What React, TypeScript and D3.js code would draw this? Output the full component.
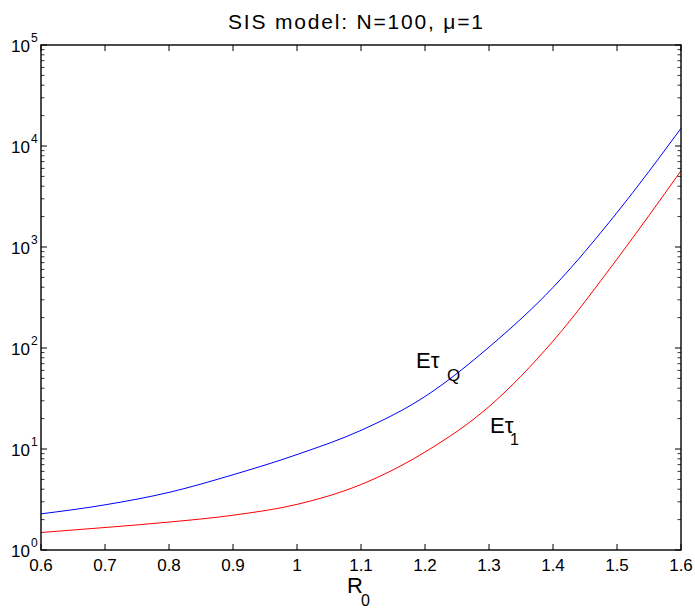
import * as d3 from "d3";

// values (R0 grid, expected extinction times)
const r0Values = [0.6, 0.7, 0.8, 0.9, 1.0, 1.1, 1.2, 1.3, 1.4, 1.5, 1.6];
const tauQ = [2.28, 2.8, 3.72, 5.56, 8.81, 15.3, 33.1, 102, 398, 2190, 14960];
const tau1 = [1.49, 1.67, 1.89, 2.21, 2.83, 4.45, 9.33, 26.3, 117, 759, 5690];
const xTicks = [0.6, 0.7, 0.8, 0.9, 1, 1.1, 1.2, 1.3, 1.4, 1.5, 1.6];
const yDecades = [0, 1, 2, 3, 4, 5];

const W = 695;
const H = 609;
const margin = { top: 45, right: 14, bottom: 59, left: 41 };
const FONT = "'Liberation Sans', Arial, Helvetica, sans-serif";

export default function App() {
  const x = d3.scaleLinear().domain([0.6, 1.6]).range([margin.left, W - margin.right]);
  const y = d3.scaleLog().domain([1, 1e5]).range([H - margin.bottom, margin.top]);
  const x0 = x.range()[0], x1 = x.range()[1];
  const y0 = y.range()[0], y1 = y.range()[1];

  const line = d3
    .line<number>()
    .x((_, i) => x(r0Values[i]))
    .y((d) => y(d))
    .curve(d3.curveMonotoneX);

  // minor ticks 2..9 per decade
  const minor: number[] = [];
  for (let e = 0; e < 5; e++) for (let k = 2; k < 10; k++) minor.push(k * Math.pow(10, e));

  const majorLen = 6;
  const minorLen = 3.5;

  return (
    <svg width={W} height={H} style={{ position: "absolute", left: 0, top: 0 }} fontFamily={FONT}>
      <rect width={W} height={H} fill="#fff" />

      {/* curves */}
      <path d={line(tauQ) ?? ""} fill="none" stroke="#0000ff" strokeWidth={1} />
      <path d={line(tau1) ?? ""} fill="none" stroke="#ff0000" strokeWidth={1} />

      {/* frame */}
      <rect x={x0} y={y1} width={x1 - x0} height={y0 - y1} fill="none" stroke="#000" strokeWidth={1.4} />

      {/* x ticks bottom + top */}
      {xTicks.map((t) => (
        <g key={"xt" + t}>
          <line x1={x(t)} x2={x(t)} y1={y0} y2={y0 - majorLen} stroke="#000" />
          <line x1={x(t)} x2={x(t)} y1={y1} y2={y1 + majorLen} stroke="#000" />
          <text x={x(t)} y={571} fontSize={17} textAnchor="middle">
            {String(t)}
          </text>
        </g>
      ))}

      {/* y major ticks */}
      {yDecades.map((e) => {
        const yy = y(Math.pow(10, e));
        return (
          <g key={"yt" + e}>
            <line x1={x0} x2={x0 + majorLen} y1={yy} y2={yy} stroke="#000" />
            <line x1={x1} x2={x1 - majorLen} y1={yy} y2={yy} stroke="#000" />
            <text x={30} y={yy + 7} fontSize={17} textAnchor="end">10</text>
            <text x={31} y={yy - 3} fontSize={12}>{e}</text>
          </g>
        );
      })}

      {/* y minor ticks */}
      {minor.map((v) => (
        <g key={"ym" + v}>
          <line x1={x0} x2={x0 + minorLen} y1={y(v)} y2={y(v)} stroke="#000" strokeWidth={0.8} />
          <line x1={x1} x2={x1 - minorLen} y1={y(v)} y2={y(v)} stroke="#000" strokeWidth={0.8} />
        </g>
      ))}

      {/* title */}
      <text x={228} y={29} fontSize={21} textLength={255} lengthAdjust="spacing">
        SIS model: N=100, μ=1
      </text>

      {/* x label */}
      <text x={347} y={593} fontSize={22}>R</text>
      <text x={361} y={606} fontSize={16}>0</text>

      {/* curve labels */}
      <text x={416} y={368} fontSize={22}>
        Eτ
      </text>
      <text x={447} y={381} fontSize={17}>Q</text>
      <text x={490} y={433} fontSize={22}>
        Eτ
      </text>
      <text x={510} y={445} fontSize={16}>1</text>
    </svg>
  );
}
